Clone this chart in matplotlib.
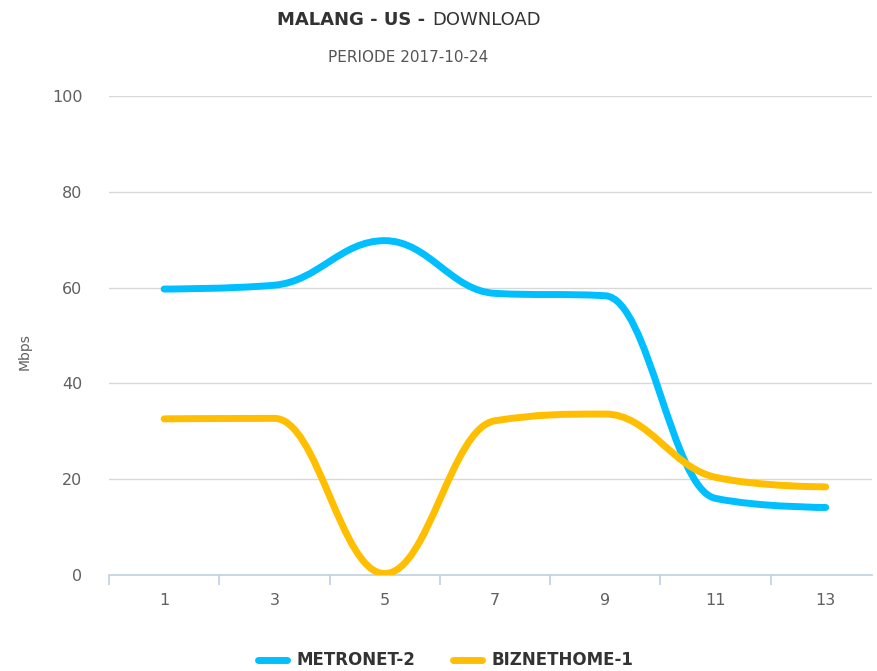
import numpy as np
import matplotlib
matplotlib.use('Agg')
import matplotlib.pyplot as plt
from matplotlib.path import Path
from matplotlib.patches import PathPatch
from matplotlib.lines import Line2D

# data
categories = ['1', '3', '5', '7', '9', '11', '13']
metronet = [59.7, 60.5, 69.8, 58.8, 58.3, 16.0, 14.1]
biznet = [32.6, 32.7, 0.3, 32.2, 33.6, 20.4, 18.4]
series_names = ['METRONET-2', 'BIZNETHOME-1']
series_colors = ['#00BFFF', '#FFBF00']
yticks = [0, 20, 40, 60, 80, 100]

W, H = 878, 671


def spline_path(xs, ys, smoothing=1.5):
    # same control point rule as a highcharts spline
    n = len(xs)
    left = [None] * n
    right = [None] * n
    denom = smoothing + 1
    for i in range(1, n - 1):
        px, py = xs[i], ys[i]
        lx, ly = xs[i - 1], ys[i - 1]
        nx, ny = xs[i + 1], ys[i + 1]
        lcx = (smoothing * px + lx) / denom
        lcy = (smoothing * py + ly) / denom
        rcx = (smoothing * px + nx) / denom
        rcy = (smoothing * py + ny) / denom
        corr = (rcy - lcy) * (rcx - px) / (rcx - lcx) + py - rcy
        lcy += corr
        rcy += corr
        if lcy > ly and lcy > py:
            lcy = max(ly, py)
            rcy = 2 * py - lcy
        elif lcy < ly and lcy < py:
            lcy = min(ly, py)
            rcy = 2 * py - lcy
        if rcy > ny and rcy > py:
            rcy = max(ny, py)
            lcy = 2 * py - rcy
        elif rcy < ny and rcy < py:
            rcy = min(ny, py)
            lcy = 2 * py - rcy
        left[i] = (lcx, lcy)
        right[i] = (rcx, rcy)
    verts = [(xs[0], ys[0])]
    codes = [Path.MOVETO]
    for i in range(1, n):
        c1 = right[i - 1] or (xs[i - 1], ys[i - 1])
        c2 = left[i] or (xs[i], ys[i])
        verts += [c1, c2, (xs[i], ys[i])]
        codes += [Path.CURVE4] * 3
    return Path(verts, codes)


fig = plt.figure(figsize=(W / 100, H / 100), dpi=100)
ax = fig.add_axes([109 / W, 1 - 575 / H, (872 - 109) / W, (575 - 96) / H])

x = np.arange(len(categories))
for vals, col in zip([metronet, biznet], series_colors):
    p = spline_path(list(x.astype(float)), list(vals))
    ax.add_patch(PathPatch(p, facecolor='none', edgecolor=col, lw=5,
                           capstyle='round', joinstyle='round', zorder=3))

ax.set_xlim(-0.5, 6.42)
ax.set_ylim(0, 100)

# grid
for v in yticks[1:]:
    ax.axhline(v, color='#D8D8D8', lw=1, zorder=1)

for s in ['top', 'right', 'left']:
    ax.spines[s].set_visible(False)
ax.spines['bottom'].set_color('#C0D0E0')
ax.spines['bottom'].set_linewidth(1.2)

ax.set_yticks(yticks)
ax.set_yticklabels([str(v) for v in yticks], fontsize=11.5, color='#606060')
ax.tick_params(axis='y', length=0, pad=19)

ax.set_xticks(np.arange(-0.5, 6, 1))
ax.set_xticklabels([])
ax.tick_params(axis='x', which='major', length=7.5, width=1.2, color='#C0D0E0', direction='out')
ax.set_xticks(x, minor=True)
ax.set_xticklabels(categories, minor=True, fontsize=11.5, color='#606060')
ax.tick_params(axis='x', which='minor', length=0, pad=13)

fig.text(25 / W, 1 - 352 / H, 'Mbps', rotation=90, ha='center', va='center',
         fontsize=10, color='#606060')

# title, bold and normal parts
fig.text(425 / W, 1 - 20 / H, 'MALANG - US -', ha='right', va='center',
         fontsize=13, fontweight='bold', color='#333333')
fig.text(432 / W, 1 - 20 / H, 'DOWNLOAD', ha='left', va='center',
         fontsize=13, color='#333333')
fig.text(408 / W, 1 - 58 / H, 'PERIODE 2017-10-24', ha='center', va='center',
         fontsize=11, color='#555555')

# legend
leg_x = [(258, 297), (453, 492)]
for (lx, tx), name, col in zip(leg_x, series_names, series_colors):
    fig.add_artist(Line2D([lx / W, (lx + 29) / W], [1 - 660 / H, 1 - 660 / H],
                          color=col, lw=5, solid_capstyle='round'))
    fig.text(tx / W, 1 - 660 / H, name, ha='left', va='center',
             fontsize=12, fontweight='bold', color='#333333')

fig.savefig('out.png', dpi=100)
